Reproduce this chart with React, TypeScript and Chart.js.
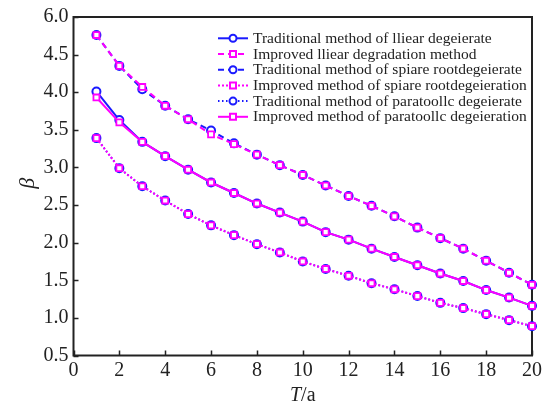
import React, { useEffect, useRef } from "react";
import { Chart, registerables } from "chart.js";

Chart.register(...registerables);

const years = [1, 2, 3, 4, 5, 6, 7, 8, 9, 10, 11, 12, 13, 14, 15, 16, 17, 18, 19, 20];

const tradLinear = [4.01, 3.63, 3.34, 3.15, 2.97, 2.8, 2.66, 2.52, 2.4, 2.28, 2.14, 2.04, 1.92, 1.81, 1.7, 1.59, 1.49, 1.37, 1.27, 1.16];
const impLinear = [4.76, 4.35, 4.07, 3.82, 3.64, 3.44, 3.31, 3.17, 3.03, 2.9, 2.76, 2.62, 2.49, 2.35, 2.2, 2.06, 1.92, 1.76, 1.6, 1.44];
const tradSpiral = [4.76, 4.35, 4.04, 3.82, 3.64, 3.49, 3.32, 3.17, 3.03, 2.9, 2.76, 2.62, 2.49, 2.35, 2.2, 2.06, 1.92, 1.76, 1.6, 1.44];
const impSpiral = [3.39, 2.99, 2.75, 2.56, 2.38, 2.23, 2.1, 1.98, 1.87, 1.75, 1.65, 1.56, 1.46, 1.38, 1.29, 1.2, 1.13, 1.05, 0.97, 0.89];
const tradParabolic = [3.39, 2.99, 2.75, 2.56, 2.38, 2.23, 2.1, 1.98, 1.87, 1.75, 1.65, 1.56, 1.46, 1.38, 1.29, 1.2, 1.13, 1.05, 0.97, 0.89];
const impParabolic = [3.93, 3.6, 3.34, 3.15, 2.97, 2.8, 2.66, 2.52, 2.4, 2.28, 2.14, 2.04, 1.92, 1.81, 1.7, 1.59, 1.49, 1.37, 1.27, 1.16];

const yTickValues = [0.5, 1.0, 1.5, 2.0, 2.5, 3.0, 3.5, 4.0, 4.5, 5.0];
const yTickLabels = ["0.5", "1.0", "1.5", "2.0", "2.5", "3.0", "3.5", "4.0", "4.5", "6.0"];
const xTickValues = [0, 2, 4, 6, 8, 10, 12, 14, 16, 18, 20];
const xTickLabels = ["0", "2", "4", "6", "8", "10", "12", "14", "16", "18", "20"];

const legendLabels = [
  "Traditional method of lliear degeierate",
  "Improved lliear degradation method",
  "Traditional method of spiare rootdegeierate",
  "Improved method of spiare rootdegeieration",
  "Traditional method of paratoollc degeierate",
  "Improved method of paratoollc degeieration",
];

const BLUE = "#1a1aff";
const MAGENTA = "#ff00ff";
const SERIF = "'Liberation Serif', 'Times New Roman', serif";

type Style = { color: string; dash: number[]; point: "circle" | "rect" };
const styles: Style[] = [
  { color: BLUE, dash: [], point: "circle" },
  { color: MAGENTA, dash: [6, 4], point: "rect" },
  { color: BLUE, dash: [6, 4], point: "circle" },
  { color: MAGENTA, dash: [2, 2], point: "rect" },
  { color: BLUE, dash: [1.5, 2.5], point: "circle" },
  { color: MAGENTA, dash: [], point: "rect" },
];
const seriesData = [tradLinear, impLinear, tradSpiral, impSpiral, tradParabolic, impParabolic];

const decor = {
  id: "decor",
  beforeDraw(chart: any) {
    const { ctx, width, height } = chart;
    ctx.save();
    ctx.fillStyle = "#ffffff";
    ctx.fillRect(0, 0, width, height);
    ctx.restore();
  },
  beforeDatasetsDraw(chart: any) {
    const { ctx, chartArea: a, scales } = chart;
    ctx.save();
    ctx.strokeStyle = "#222";
    ctx.lineWidth = 2;
    ctx.strokeRect(a.left, a.top, a.right - a.left, a.bottom - a.top);
    ctx.beginPath();
    yTickValues.forEach((v) => {
      const py = Math.round(scales.y.getPixelForValue(v)) + 0.5;
      ctx.moveTo(a.left, py);
      ctx.lineTo(a.left + 5, py);
    });
    xTickValues.forEach((v) => {
      const px = Math.round(scales.x.getPixelForValue(v)) + 0.5;
      ctx.moveTo(px, a.bottom);
      ctx.lineTo(px, a.bottom - 5);
    });
    ctx.lineWidth = 1.5;
    ctx.stroke();
    ctx.restore();
  },
  afterDraw(chart: any) {
    const { ctx, chartArea: a } = chart;
    ctx.save();
    // y title
    ctx.fillStyle = "#222";
    ctx.font = `italic 22px ${SERIF}`;
    ctx.textAlign = "center";
    ctx.textBaseline = "middle";
    ctx.translate(28, (a.top + a.bottom) / 2 - 3);
    ctx.rotate(-Math.PI / 2);
    ctx.fillText("β", 0, 0);
    ctx.restore();

    // x title
    ctx.save();
    ctx.fillStyle = "#222";
    ctx.textBaseline = "alphabetic";
    ctx.font = `italic 20px ${SERIF}`;
    const tW = ctx.measureText("T").width;
    ctx.font = `20px ${SERIF}`;
    const rW = ctx.measureText("/a").width;
    const cx = (a.left + a.right) / 2;
    const startX = cx - (tW + rW) / 2;
    ctx.font = `italic 20px ${SERIF}`;
    ctx.textAlign = "left";
    ctx.fillText("T", startX, 401);
    ctx.font = `20px ${SERIF}`;
    ctx.fillText("/a", startX + tW, 401);
    ctx.restore();

    // legend
    ctx.save();
    const lx0 = 218;
    const lx1 = 248;
    legendLabels.forEach((label, i) => {
      const s = styles[i];
      const y = 38.3 + i * 15.7;
      ctx.strokeStyle = s.color;
      ctx.lineWidth = 2;
      ctx.setLineDash(s.dash);
      ctx.beginPath();
      ctx.moveTo(lx0, y);
      ctx.lineTo(lx1, y);
      ctx.stroke();
      ctx.setLineDash([]);
      const mx = (lx0 + lx1) / 2;
      ctx.fillStyle = "#fff";
      ctx.beginPath();
      if (s.point === "circle") {
        ctx.arc(mx, y, 3.5, 0, Math.PI * 2);
      } else {
        ctx.rect(mx - 3, y - 3, 6, 6);
      }
      ctx.fill();
      ctx.stroke();
      ctx.fillStyle = "#222";
      ctx.font = `15.5px ${SERIF}`;
      ctx.textAlign = "left";
      ctx.textBaseline = "middle";
      ctx.fillText(label, 253, y + 0.5);
    });
    ctx.restore();
  },
};

export default function App() {
  const ref = useRef<HTMLCanvasElement | null>(null);

  useEffect(() => {
    if (!ref.current) return;
    // draw magenta (improved) series on top: put them first in the dataset list
    const order = [1, 3, 5, 0, 2, 4];
    const datasets = order.map((i) => {
      const s = styles[i];
      return {
        label: legendLabels[i],
        data: years.map((t, k) => ({ x: t, y: seriesData[i][k] })),
        borderColor: s.color,
        backgroundColor: "#ffffff",
        borderWidth: 2,
        borderDash: s.dash,
        pointStyle: s.point,
        pointRadius: s.point === "circle" ? 4 : 4.2,
        pointBorderWidth: s.point === "circle" ? 2 : 1.8,
        pointBorderColor: s.color,
        pointBackgroundColor: "#ffffff",
        tension: 0,
        clip: false as any,
      };
    });

    const chart = new Chart(ref.current, {
      type: "line",
      data: { datasets },
      plugins: [decor],
      options: {
        animation: false,
        responsive: false,
        maintainAspectRatio: false,
        layout: { padding: { top: 14, right: 13, left: 0, bottom: 0 } },
        plugins: { legend: { display: false }, tooltip: { enabled: false } },
        scales: {
          x: {
            type: "linear",
            min: 0,
            max: 20,
            afterFit: (scale: any) => {
              scale.height = 53.5;
            },
            afterBuildTicks: (scale: any) => {
              scale.ticks = xTickValues.map((v) => ({ value: v }));
            },
            ticks: {
              callback: (v: any) => {
                const idx = xTickValues.indexOf(Number(v));
                return idx >= 0 ? xTickLabels[idx] : "";
              },
              font: { family: SERIF, size: 20 },
              color: "#222",
              padding: 3,
              maxRotation: 0,
              autoSkip: false,
            },
            grid: { display: false, drawTicks: false },
            border: { display: false },
          },
          y: {
            type: "linear",
            min: 0.5,
            max: 5.0,
            afterFit: (scale: any) => {
              scale.width = 73.5;
            },
            afterBuildTicks: (scale: any) => {
              scale.ticks = yTickValues.map((v) => ({ value: v }));
            },
            ticks: {
              callback: (v: any) => {
                const idx = yTickValues.findIndex((t) => Math.abs(t - Number(v)) < 1e-6);
                return idx >= 0 ? yTickLabels[idx] : "";
              },
              font: { family: SERIF, size: 20 },
              color: "#222",
              padding: 5,
              autoSkip: false,
            },
            grid: { display: false, drawTicks: false },
            border: { display: false },
          },
        },
      },
    });
    return () => chart.destroy();
  }, []);

  return (
    <canvas
      ref={ref}
      width={545}
      height={409}
      style={{ position: "absolute", left: 0, top: 0, display: "block", width: 545, height: 409 }}
    />
  );
}
